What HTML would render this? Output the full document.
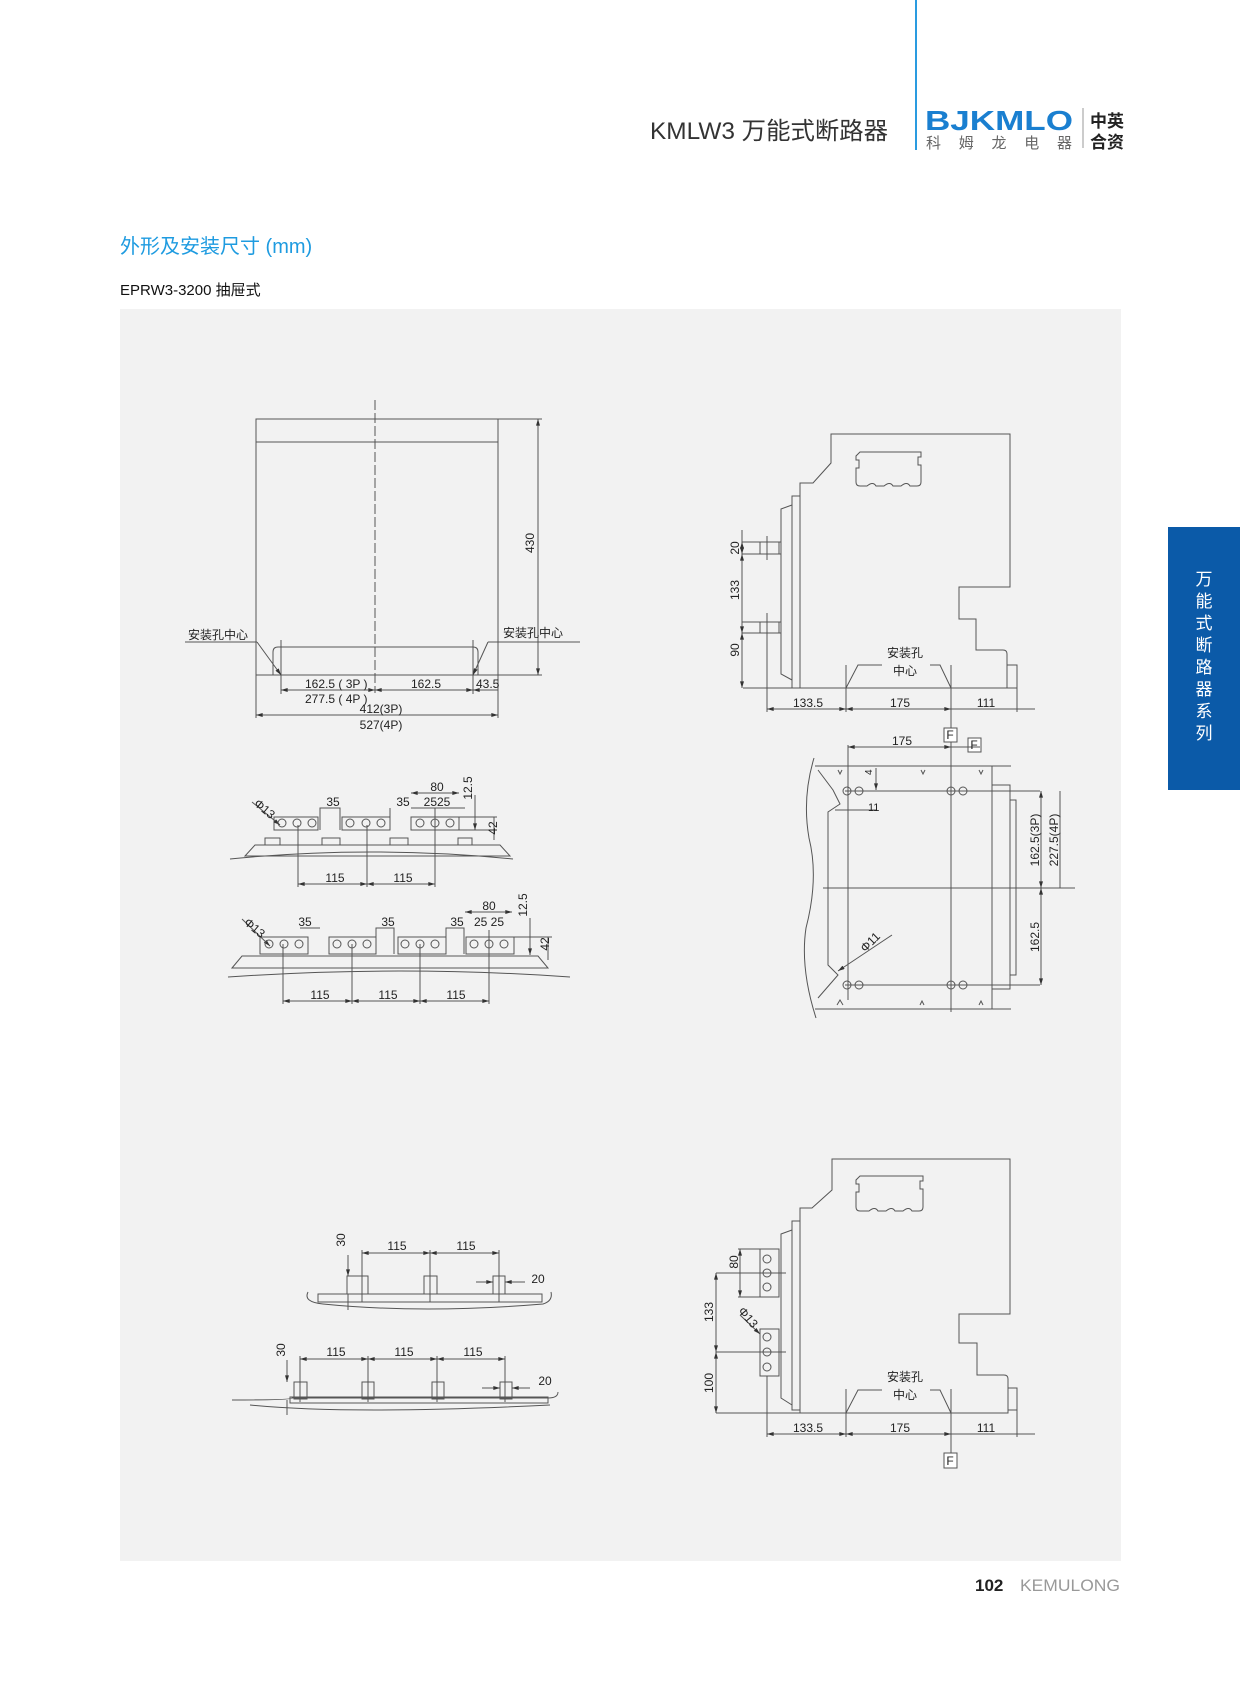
<!DOCTYPE html>
<html><head><meta charset="utf-8"><style>
html,body{margin:0;padding:0;background:#fff}
svg{display:block}
text{font-family:"Liberation Sans","Noto Sans CJK SC",sans-serif}
</style></head><body>
<svg width="1243" height="1684" viewBox="0 0 1243 1684" xmlns="http://www.w3.org/2000/svg">
<defs>
<marker id="a" viewBox="0 0 10 6" refX="10" refY="3" markerWidth="8" markerHeight="4" orient="auto-start-reverse"><path d="M0,0L10,3L0,6z" fill="#333"/></marker>
</defs>
<rect width="1243" height="1684" fill="#fff"/>
<!-- header -->
<line x1="916" y1="0" x2="916" y2="150" stroke="#2a9be0" stroke-width="2"/>
<text x="650" y="139" font-size="24" fill="#333" textLength="238" lengthAdjust="spacingAndGlyphs">KMLW3 万能式断路器</text>
<text x="925" y="130" font-size="28" font-weight="bold" fill="#1a7fd0" textLength="148" lengthAdjust="spacingAndGlyphs">BJKMLO</text>
<text x="926" y="148" font-size="15" fill="#666" textLength="146" lengthAdjust="spacing">科姆龙电器</text>
<line x1="1083" y1="108" x2="1083" y2="148" stroke="#999"/>
<text x="1090" y="127" font-size="17" font-weight="bold" fill="#222">中英</text>
<text x="1090" y="148" font-size="17" font-weight="bold" fill="#222">合资</text>
<text x="120" y="253" font-size="20" fill="#1e9be0">外形及安装尺寸 (mm)</text>
<text x="120" y="295" font-size="15" fill="#111">EPRW3-3200 抽屉式</text>
<rect x="120" y="309" width="1001" height="1252" fill="#f2f2f2"/>
<!-- tab -->
<rect x="1168" y="527" width="72" height="263" fill="#0b5aa8"/>
<g font-size="17" fill="#fff" text-anchor="middle">
<text x="1204" y="585">万</text><text x="1204" y="607">能</text><text x="1204" y="629">式</text><text x="1204" y="651">断</text><text x="1204" y="673">路</text><text x="1204" y="695">器</text><text x="1204" y="717">系</text><text x="1204" y="739">列</text>
</g>
<text x="975" y="1591" font-size="17" font-weight="bold" fill="#222">102</text>
<text x="1020" y="1591" font-size="17" fill="#999" textLength="100" lengthAdjust="spacingAndGlyphs">KEMULONG</text>

<g stroke="#555" stroke-width="1" fill="none">
<!-- Drawing 1 -->
<rect x="256" y="419" width="242" height="256"/>
<line x1="256" y1="442" x2="498" y2="442"/>
<line x1="375" y1="400" x2="375" y2="693" stroke-dasharray="10,3"/>
<path d="M273,675V652q0,-5 5,-5H473q5,0 5,5V675"/>
<line x1="281" y1="640" x2="281" y2="694"/><line x1="473" y1="640" x2="473" y2="694"/>
<line x1="498" y1="419" x2="542" y2="419"/><line x1="498" y1="675" x2="542" y2="675"/>
<line x1="538" y1="419" x2="538" y2="675" marker-start="url(#a)" marker-end="url(#a)"/>
<line x1="185" y1="642" x2="257" y2="642"/><line x1="257" y1="642" x2="281" y2="675" marker-end="url(#a)"/>
<line x1="580" y1="642" x2="488" y2="642"/><line x1="488" y1="642" x2="473" y2="675" marker-end="url(#a)"/>
<line x1="281" y1="690" x2="375" y2="690" marker-start="url(#a)" marker-end="url(#a)"/>
<line x1="375" y1="690" x2="473" y2="690" marker-start="url(#a)" marker-end="url(#a)"/>
<line x1="473" y1="690" x2="498" y2="690" marker-start="url(#a)"/>
<line x1="256" y1="675" x2="256" y2="718"/><line x1="498" y1="675" x2="498" y2="718"/>
<line x1="256" y1="715" x2="498" y2="715" marker-start="url(#a)" marker-end="url(#a)"/>

<!-- Drawing 2 side view -->
<path d="M831,434H1010V587H959V619H976V650H1003q4,0 4,4V688H800V483H813L831,463Z"/>
<rect x="792" y="496" width="8" height="192"/>
<path d="M792,505L781,509V674L792,680"/>
<path d="M860,452H921v5h-3v8h3v17q0,4 -4,4H910q-3,-5 -9,0H893q-3,-5 -9,0H876q-3,-5 -9,0H860q-4,0 -4,-4V468h3v-8h-3v-4z"/>
<rect x="1007" y="665" width="10" height="23"/>
<line x1="742" y1="542" x2="781" y2="542"/><line x1="742" y1="554" x2="781" y2="554"/>
<rect x="760" y="542" width="19" height="12"/><line x1="767" y1="536" x2="767" y2="560"/>
<line x1="742" y1="622" x2="781" y2="622"/><line x1="742" y1="633" x2="781" y2="633"/>
<rect x="760" y="622" width="19" height="11"/><line x1="767" y1="613" x2="767" y2="712"/>
<line x1="742" y1="530" x2="742" y2="688"/>
<line x1="742" y1="542" x2="742" y2="554" marker-start="url(#a)" marker-end="url(#a)"/>
<line x1="742" y1="554" x2="742" y2="633" marker-start="url(#a)" marker-end="url(#a)"/>
<line x1="742" y1="633" x2="742" y2="688" marker-start="url(#a)" marker-end="url(#a)"/>
<line x1="743" y1="688" x2="800" y2="688"/>
<line x1="846" y1="665" x2="846" y2="712"/><line x1="951" y1="665" x2="951" y2="732"/>
<path d="M846,688L858,665H882"/><path d="M951,688L940,665H930"/>
<line x1="1017" y1="688" x2="1017" y2="712"/>
<line x1="767" y1="709" x2="846" y2="709" marker-start="url(#a)" marker-end="url(#a)"/>
<line x1="846" y1="709" x2="951" y2="709" marker-start="url(#a)" marker-end="url(#a)"/>
<line x1="951" y1="709" x2="1035" y2="709"/>
<rect x="944" y="728" width="13" height="14" fill="#fff"/>
<rect x="968" y="738" width="13" height="14" fill="#fff"/>

<!-- Drawing 3 top view -->
<line x1="951" y1="742" x2="951" y2="1012"/>
<line x1="951" y1="747" x2="980" y2="747"/>
<line x1="848" y1="747" x2="951" y2="747" marker-start="url(#a)" marker-end="url(#a)"/>
<line x1="848" y1="745" x2="848" y2="1000"/>
<line x1="815" y1="766" x2="1011" y2="766"/><line x1="815" y1="1009" x2="1011" y2="1009"/>
<path d="M814,758q-12,40 -5,80q10,40 -3,90q-6,40 10,90"/>
<line x1="992" y1="766" x2="992" y2="1009"/>
<rect x="992" y="785" width="18" height="204"/>
<rect x="1010" y="800" width="6" height="175"/>
<path d="M818,770L833,790L840,804L828,812V965L838,975L818,998"/>
<line x1="845" y1="791" x2="1040" y2="791"/><line x1="845" y1="985" x2="1040" y2="985"/>
<line x1="823" y1="888" x2="1075" y2="888"/>
<circle cx="847" cy="791" r="4"/><circle cx="859" cy="791" r="4"/><circle cx="951" cy="791" r="4"/><circle cx="963" cy="791" r="4"/>
<circle cx="847" cy="985" r="4"/><circle cx="859" cy="985" r="4"/><circle cx="951" cy="985" r="4"/><circle cx="963" cy="985" r="4"/>
<line x1="1041" y1="791" x2="1041" y2="888" marker-start="url(#a)" marker-end="url(#a)"/>
<line x1="1041" y1="888" x2="1041" y2="985" marker-start="url(#a)" marker-end="url(#a)"/>
<line x1="1060" y1="791" x2="1060" y2="888"/>
<line x1="876" y1="768" x2="876" y2="790" marker-end="url(#a)"/>
<line x1="835" y1="810" x2="876" y2="810"/>
<line x1="838" y1="971" x2="892" y2="935" marker-start="url(#a)"/>
<path d="M837,1005l3,-5l3,5M920,1005l2,-4l2,4M979,1005l2,-4l2,4M838,770l2,4l2,-4M921,770l2,4l2,-4M979,770l2,4l2,-4"/>

<!-- Drawing 4 terminals (3P) -->
<path d="M230,859Q370,845 513,859"/>
<path d="M245,856L255,845H500L510,856Z"/>
<rect x="274" y="817" width="44" height="13"/><rect x="342" y="817" width="48" height="13"/><rect x="411" y="817" width="48" height="13"/>
<path d="M320,830V808H340V830M390,830V808M411,808H418"/>
<path d="M265,845V838H280V845M322,845V838H340V845M390,845V838H408V845M458,845V838H472V845"/>
<line x1="298" y1="825" x2="298" y2="887"/><line x1="367" y1="825" x2="367" y2="887"/><line x1="435" y1="808" x2="435" y2="887"/>
<line x1="298" y1="884" x2="367" y2="884" marker-start="url(#a)" marker-end="url(#a)"/>
<line x1="367" y1="884" x2="435" y2="884" marker-start="url(#a)" marker-end="url(#a)"/>
<line x1="411" y1="793" x2="459" y2="793" marker-start="url(#a)" marker-end="url(#a)"/>
<line x1="411" y1="808" x2="465" y2="808"/>
<line x1="459" y1="817" x2="497" y2="817"/><line x1="459" y1="830" x2="497" y2="830"/>
<line x1="475" y1="795" x2="475" y2="830" marker-end="url(#a)"/>
<line x1="494" y1="817" x2="494" y2="840"/>
<line x1="252" y1="802" x2="280" y2="825" marker-end="url(#a)"/>
<circle cx="282" cy="823" r="4"/><circle cx="297" cy="823" r="4"/><circle cx="312" cy="823" r="4"/><circle cx="350" cy="823" r="4"/><circle cx="366" cy="823" r="4"/><circle cx="381" cy="823" r="4"/><circle cx="420" cy="823" r="4"/><circle cx="435" cy="823" r="4"/><circle cx="450" cy="823" r="4"/>

<!-- 4P -->
<path d="M228,977Q400,965 570,977"/>
<path d="M232,968L242,956H538L548,968Z"/>
<rect x="260" y="937" width="48" height="17"/><rect x="329" y="937" width="47" height="17"/><rect x="398" y="937" width="48" height="17"/><rect x="466" y="937" width="48" height="17"/>
<path d="M376,954V928H394V954M446,954V928H464V954M300,928H320"/>
<line x1="283" y1="944" x2="283" y2="1004"/><line x1="352" y1="944" x2="352" y2="1004"/><line x1="420" y1="944" x2="420" y2="1004"/><line x1="489" y1="930" x2="489" y2="1004"/>
<line x1="283" y1="1001" x2="352" y2="1001" marker-start="url(#a)" marker-end="url(#a)"/>
<line x1="352" y1="1001" x2="420" y2="1001" marker-start="url(#a)" marker-end="url(#a)"/>
<line x1="420" y1="1001" x2="489" y2="1001" marker-start="url(#a)" marker-end="url(#a)"/>
<line x1="465" y1="912" x2="512" y2="912" marker-start="url(#a)" marker-end="url(#a)"/>
<line x1="514" y1="937" x2="552" y2="937"/>
<line x1="530" y1="918" x2="530" y2="955" marker-end="url(#a)"/>
<line x1="548" y1="937" x2="548" y2="960"/>
<line x1="242" y1="919" x2="270" y2="946" marker-end="url(#a)"/>
<circle cx="269" cy="944" r="4"/><circle cx="284" cy="944" r="4"/><circle cx="299" cy="944" r="4"/><circle cx="337" cy="944" r="4"/><circle cx="352" cy="944" r="4"/><circle cx="367" cy="944" r="4"/><circle cx="405" cy="944" r="4"/><circle cx="420" cy="944" r="4"/><circle cx="435" cy="944" r="4"/><circle cx="474" cy="944" r="4"/><circle cx="489" cy="944" r="4"/><circle cx="504" cy="944" r="4"/>

<!-- Drawing 5 -->
<path d="M308,1292q-5,10 15,12q100,10 220,0q10,-3 8,-12"/>
<rect x="318" y="1294" width="224" height="8"/>
<rect x="347" y="1276" width="21" height="18"/><rect x="424" y="1276" width="13" height="18"/><rect x="493" y="1276" width="12" height="18"/>
<line x1="362" y1="1250" x2="362" y2="1302"/><line x1="430" y1="1250" x2="430" y2="1302"/><line x1="499" y1="1250" x2="499" y2="1302"/>
<line x1="362" y1="1253" x2="430" y2="1253" marker-start="url(#a)" marker-end="url(#a)"/>
<line x1="430" y1="1253" x2="499" y2="1253" marker-start="url(#a)" marker-end="url(#a)"/>
<line x1="348" y1="1255" x2="348" y2="1276" marker-end="url(#a)"/><line x1="348" y1="1294" x2="348" y2="1310"/>
<line x1="476" y1="1282" x2="493" y2="1282" marker-end="url(#a)"/><line x1="525" y1="1282" x2="505" y2="1282" marker-end="url(#a)"/>

<path d="M232,1400q60,0 60,-2H548q10,0 10,-6"/>
<path d="M250,1405q100,10 300,0"/>
<rect x="290" y="1397" width="258" height="6"/>
<rect x="294" y="1382" width="13" height="17"/><rect x="362" y="1382" width="12" height="17"/><rect x="432" y="1382" width="12" height="17"/><rect x="500" y="1382" width="12" height="17"/>
<line x1="300" y1="1356" x2="300" y2="1402"/><line x1="368" y1="1356" x2="368" y2="1402"/><line x1="437" y1="1356" x2="437" y2="1402"/><line x1="505" y1="1356" x2="505" y2="1402"/>
<line x1="300" y1="1359" x2="368" y2="1359" marker-start="url(#a)" marker-end="url(#a)"/>
<line x1="368" y1="1359" x2="437" y2="1359" marker-start="url(#a)" marker-end="url(#a)"/>
<line x1="437" y1="1359" x2="505" y2="1359" marker-start="url(#a)" marker-end="url(#a)"/>
<line x1="287" y1="1360" x2="287" y2="1382" marker-end="url(#a)"/><line x1="287" y1="1400" x2="287" y2="1415"/>
<line x1="482" y1="1388" x2="500" y2="1388" marker-end="url(#a)"/><line x1="530" y1="1388" x2="512" y2="1388" marker-end="url(#a)"/>

<!-- Drawing 6 -->
<path d="M832,1159H1010V1314H959V1343H977V1375H1004q4,0 4,4V1413H800V1208H812L832,1190Z"/>
<rect x="792" y="1221" width="8" height="189"/>
<path d="M792,1230L781,1234V1398L792,1405"/>
<path d="M860,1176H923v5h-3v8h3v18q0,4 -4,4H912q-3,-5 -9,0H895q-3,-5 -9,0H878q-3,-5 -9,0H860q-4,0 -4,-4V1192h3v-8h-3v-4z"/>
<rect x="1008" y="1388" width="9" height="22"/>
<rect x="760" y="1249" width="19" height="48"/><rect x="760" y="1329" width="19" height="47"/>
<circle cx="767" cy="1259" r="4"/><circle cx="767" cy="1273" r="4"/><circle cx="767" cy="1287" r="4"/>
<circle cx="767" cy="1337" r="4"/><circle cx="767" cy="1352" r="4"/><circle cx="767" cy="1367" r="4"/>
<line x1="716" y1="1273" x2="786" y2="1273"/><line x1="716" y1="1352" x2="786" y2="1352"/>
<line x1="738" y1="1249" x2="760" y2="1249"/><line x1="738" y1="1297" x2="760" y2="1297"/>
<line x1="740" y1="1249" x2="740" y2="1297" marker-start="url(#a)" marker-end="url(#a)"/>
<line x1="716" y1="1273" x2="716" y2="1352" marker-start="url(#a)" marker-end="url(#a)"/>
<line x1="716" y1="1352" x2="716" y2="1413" marker-start="url(#a)" marker-end="url(#a)"/>
<line x1="716" y1="1413" x2="800" y2="1413"/>
<line x1="767" y1="1376" x2="767" y2="1437"/>
<line x1="740" y1="1315" x2="760" y2="1334" marker-end="url(#a)"/>
<line x1="846" y1="1389" x2="846" y2="1437"/><line x1="951" y1="1389" x2="951" y2="1453"/>
<path d="M846,1413L858,1390H882"/><path d="M951,1413L940,1390H930"/>
<line x1="1017" y1="1410" x2="1017" y2="1437"/>
<line x1="767" y1="1434" x2="846" y2="1434" marker-start="url(#a)" marker-end="url(#a)"/>
<line x1="846" y1="1434" x2="951" y2="1434" marker-start="url(#a)" marker-end="url(#a)"/>
<line x1="951" y1="1434" x2="1035" y2="1434"/>
<rect x="944" y="1453" width="13" height="15" fill="#fff"/>
</g>

<g font-size="12" fill="#222">
<text x="188" y="639">安装孔中心</text>
<text x="503" y="637">安装孔中心</text>
<text x="305" y="688">162.5 ( 3P )</text>
<text x="411" y="688">162.5</text>
<text x="476" y="688">43.5</text>
<text x="305" y="703">277.5 ( 4P )</text>
<text x="381" y="713" text-anchor="middle">412(3P)</text>
<text x="381" y="729" text-anchor="middle">527(4P)</text>
<text transform="translate(534,543) rotate(-90)" text-anchor="middle">430</text>
<text transform="translate(739,548) rotate(-90)" text-anchor="middle">20</text>
<text transform="translate(739,590) rotate(-90)" text-anchor="middle">133</text>
<text transform="translate(739,650) rotate(-90)" text-anchor="middle">90</text>
<text x="905" y="657" text-anchor="middle">安装孔</text>
<text x="905" y="675" text-anchor="middle">中心</text>
<text x="808" y="707" text-anchor="middle">133.5</text>
<text x="900" y="707" text-anchor="middle">175</text>
<text x="986" y="707" text-anchor="middle">111</text>
<text x="950" y="739" text-anchor="middle">F</text>
<text x="974" y="749" text-anchor="middle">F</text>
<text x="902" y="745" text-anchor="middle">175</text>
<text x="868" y="811" font-size="11">11</text>
<text transform="translate(872,775) rotate(-90)" font-size="10">4</text>
<text transform="translate(873,945) rotate(-45)" text-anchor="middle">Φ11</text>
<text transform="translate(1039,840) rotate(-90)" text-anchor="middle">162.5(3P)</text>
<text transform="translate(1058,840) rotate(-90)" text-anchor="middle">227.5(4P)</text>
<text transform="translate(1039,937) rotate(-90)" text-anchor="middle">162.5</text>
<text x="333" y="806" text-anchor="middle">35</text>
<text x="403" y="806" text-anchor="middle">35</text>
<text x="437" y="791" text-anchor="middle">80</text>
<text x="437" y="806" text-anchor="middle">2525</text>
<text transform="translate(472,788) rotate(-90)" text-anchor="middle">12.5</text>
<text transform="translate(497,828) rotate(-90)" text-anchor="middle">42</text>
<text transform="translate(262,812) rotate(40)" text-anchor="middle">Φ13</text>
<text x="335" y="882" text-anchor="middle">115</text>
<text x="403" y="882" text-anchor="middle">115</text>
<text x="305" y="926" text-anchor="middle">35</text>
<text x="388" y="926" text-anchor="middle">35</text>
<text x="457" y="926" text-anchor="middle">35</text>
<text x="489" y="910" text-anchor="middle">80</text>
<text x="489" y="926" text-anchor="middle">25 25</text>
<text transform="translate(527,905) rotate(-90)" text-anchor="middle">12.5</text>
<text transform="translate(549,944) rotate(-90)" text-anchor="middle">42</text>
<text transform="translate(252,931) rotate(40)" text-anchor="middle">Φ13</text>
<text x="320" y="999" text-anchor="middle">115</text>
<text x="388" y="999" text-anchor="middle">115</text>
<text x="456" y="999" text-anchor="middle">115</text>
<text transform="translate(345,1240) rotate(-90)" text-anchor="middle">30</text>
<text x="397" y="1250" text-anchor="middle">115</text>
<text x="466" y="1250" text-anchor="middle">115</text>
<text x="538" y="1283" text-anchor="middle">20</text>
<text transform="translate(285,1350) rotate(-90)" text-anchor="middle">30</text>
<text x="336" y="1356" text-anchor="middle">115</text>
<text x="404" y="1356" text-anchor="middle">115</text>
<text x="473" y="1356" text-anchor="middle">115</text>
<text x="545" y="1385" text-anchor="middle">20</text>
<text transform="translate(738,1262) rotate(-90)" text-anchor="middle">80</text>
<text transform="translate(713,1312) rotate(-90)" text-anchor="middle">133</text>
<text transform="translate(713,1383) rotate(-90)" text-anchor="middle">100</text>
<text transform="translate(745,1320) rotate(50)" text-anchor="middle">Φ13</text>
<text x="905" y="1381" text-anchor="middle">安装孔</text>
<text x="905" y="1399" text-anchor="middle">中心</text>
<text x="808" y="1432" text-anchor="middle">133.5</text>
<text x="900" y="1432" text-anchor="middle">175</text>
<text x="986" y="1432" text-anchor="middle">111</text>
<text x="950" y="1465" text-anchor="middle">F</text>
</g>
</svg>
</body></html>
